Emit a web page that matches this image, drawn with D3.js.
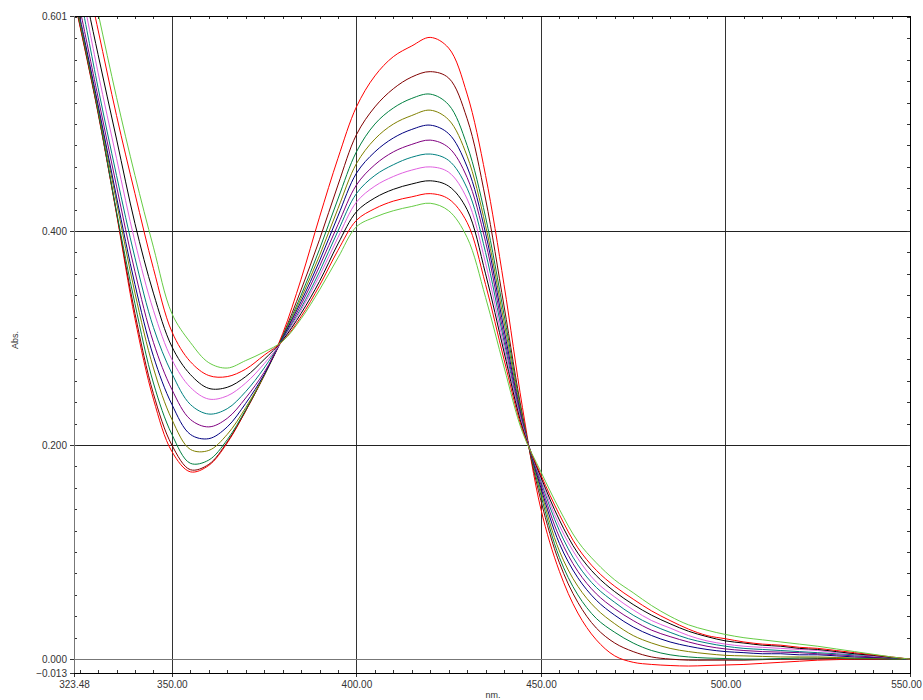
<!DOCTYPE html>
<html>
<head>
<meta charset="utf-8">
<script src="https://cdn.jsdelivr.net/npm/d3@7"></script>
<style>
  html, body { margin: 0; padding: 0; background: #fff; }
  svg { display: block; }
  text { font-family: "Liberation Sans", Arial, sans-serif; fill: #333; }
</style>
</head>
<body>
<svg id="chart" width="923" height="700"></svg>
<script>
// ---- DATA ----
const wavelengths = [323.48, 325, 330, 335, 340, 345, 350, 355, 360, 365, 370, 375, 380, 385, 390, 395, 400,
  405, 410, 415, 420, 425, 430, 435, 440, 445, 450, 455, 460, 465, 470, 475, 480, 485, 490, 495, 500,
  505, 510, 515, 520, 525, 530, 535, 540, 545, 550];

const absRed1 = [0.617, 0.593, 0.510, 0.416, 0.318, 0.243, 0.194, 0.175, 0.181, 0.202, 0.232, 0.265, 0.304,
  0.355, 0.413, 0.468, 0.516, 0.545, 0.563, 0.573, 0.581, 0.571, 0.528, 0.452, 0.350, 0.235, 0.140,
  0.082, 0.043, 0.018, 0.003, -0.003, -0.005, -0.006, -0.0065, -0.006, -0.0055, -0.005, -0.004, -0.003,
  -0.002, -0.001, -0.0005, 0, 0, 0, 0];
const absMaroon = [0.618, 0.594, 0.511, 0.417, 0.323, 0.248, 0.200, 0.177, 0.182, 0.203, 0.232, 0.265, 0.302,
  0.345, 0.392, 0.443, 0.490, 0.516, 0.533, 0.544, 0.549, 0.543, 0.505, 0.430, 0.330, 0.228, 0.148,
  0.090, 0.053, 0.029, 0.015, 0.007, 0.002, 0, -0.001, -0.001, -0.001, -0.001, -0.0005, 0,
  0, 0.0005, 0.0005, 0, 0, 0, 0];
const absGreen = [0.620, 0.596, 0.512, 0.418, 0.332, 0.258, 0.210, 0.183, 0.186, 0.205, 0.233, 0.265, 0.301,
  0.340, 0.383, 0.430, 0.474, 0.500, 0.515, 0.524, 0.528, 0.518, 0.480, 0.413, 0.322, 0.226, 0.153,
  0.095, 0.060, 0.038, 0.025, 0.015, 0.008, 0.004, 0.002, 0.001, 0.0005, 0, 0, 0.0005,
  0.001, 0.001, 0.001, 0.0005, 0.0005, 0, 0];
const absOlive = [0.622, 0.598, 0.515, 0.427, 0.342, 0.272, 0.224, 0.196, 0.195, 0.210, 0.235, 0.265, 0.300,
  0.337, 0.377, 0.421, 0.463, 0.486, 0.500, 0.508, 0.513, 0.504, 0.470, 0.405, 0.315, 0.224, 0.157,
  0.101, 0.068, 0.047, 0.033, 0.022, 0.015, 0.010, 0.007, 0.005, 0.0035, 0.003, 0.0025, 0.002,
  0.002, 0.002, 0.0015, 0.001, 0.001, 0.0005, 0];
const absNavy = [0.625, 0.601, 0.518, 0.432, 0.350, 0.283, 0.238, 0.210, 0.206, 0.217, 0.239, 0.266, 0.300,
  0.334, 0.372, 0.414, 0.454, 0.474, 0.487, 0.495, 0.499, 0.491, 0.460, 0.398, 0.308, 0.222, 0.160,
  0.108, 0.076, 0.055, 0.041, 0.030, 0.022, 0.016, 0.012, 0.009, 0.007, 0.006, 0.005, 0.005,
  0.004, 0.004, 0.003, 0.002, 0.0015, 0.001, 0];
const absPurple = [0.633, 0.609, 0.525, 0.442, 0.362, 0.296, 0.252, 0.224, 0.217, 0.225, 0.244, 0.268, 0.299,
  0.331, 0.367, 0.406, 0.443, 0.462, 0.474, 0.481, 0.485, 0.478, 0.450, 0.390, 0.302, 0.221, 0.163,
  0.114, 0.082, 0.061, 0.047, 0.036, 0.027, 0.021, 0.016, 0.012, 0.0095, 0.008, 0.007, 0.0065,
  0.006, 0.005, 0.004, 0.003, 0.002, 0.001, 0];
const absTeal = [0.645, 0.622, 0.534, 0.452, 0.375, 0.310, 0.267, 0.238, 0.229, 0.234, 0.250, 0.272, 0.299,
  0.328, 0.362, 0.400, 0.435, 0.452, 0.462, 0.469, 0.472, 0.466, 0.440, 0.380, 0.297, 0.219, 0.166,
  0.120, 0.088, 0.067, 0.053, 0.041, 0.032, 0.025, 0.019, 0.015, 0.012, 0.010, 0.009, 0.008,
  0.007, 0.006, 0.005, 0.004, 0.003, 0.001, 0];
const absPink = [0.660, 0.635, 0.548, 0.468, 0.390, 0.326, 0.280, 0.254, 0.243, 0.246, 0.258, 0.276, 0.298,
  0.326, 0.358, 0.394, 0.427, 0.442, 0.451, 0.457, 0.460, 0.455, 0.430, 0.370, 0.292, 0.218, 0.168,
  0.125, 0.094, 0.072, 0.058, 0.046, 0.036, 0.029, 0.022, 0.017, 0.014, 0.012, 0.011, 0.010,
  0.009, 0.008, 0.006, 0.005, 0.003, 0.0015, 0];
const absBlack = [0.675, 0.647, 0.565, 0.486, 0.407, 0.342, 0.292, 0.266, 0.253, 0.254, 0.264, 0.280, 0.298,
  0.323, 0.353, 0.388, 0.418, 0.431, 0.439, 0.444, 0.447, 0.442, 0.420, 0.360, 0.287, 0.216, 0.170,
  0.130, 0.099, 0.078, 0.063, 0.051, 0.041, 0.033, 0.026, 0.021, 0.017, 0.015, 0.013, 0.012,
  0.010, 0.009, 0.007, 0.005, 0.0035, 0.0015, 0];
const absRed2 = [0.690, 0.668, 0.588, 0.508, 0.435, 0.365, 0.306, 0.278, 0.265, 0.264, 0.271, 0.284, 0.297,
  0.320, 0.349, 0.382, 0.410, 0.421, 0.428, 0.432, 0.435, 0.430, 0.408, 0.350, 0.280, 0.214, 0.172,
  0.135, 0.104, 0.083, 0.068, 0.056, 0.045, 0.036, 0.028, 0.022, 0.019, 0.016, 0.014, 0.013,
  0.011, 0.010, 0.008, 0.006, 0.004, 0.002, 0];
const absLightGreen = [0.710, 0.685, 0.604, 0.525, 0.452, 0.385, 0.323, 0.296, 0.277, 0.272, 0.279, 0.287, 0.297,
  0.318, 0.345, 0.375, 0.404, 0.413, 0.419, 0.423, 0.426, 0.419, 0.394, 0.338, 0.273, 0.212, 0.175,
  0.140, 0.110, 0.090, 0.074, 0.062, 0.050, 0.040, 0.032, 0.027, 0.023, 0.020, 0.018, 0.016,
  0.014, 0.012, 0.0095, 0.007, 0.0045, 0.002, 0];

const seriesColors = ["#ff0000", "#800000", "#008040", "#808000", "#000080", "#800080",
  "#008080", "#e060e0", "#000000", "#ff0000", "#66cc44"];

const xTickLabels = [323.48, 350, 400, 450, 500, 550];
const yTickLabels = [-0.013, 0.000, 0.200, 0.400, 0.601];
const xGrid = [350, 400, 450, 500];
const yGrid = [0.2, 0.4];
const xLabel = "nm.";
const yLabel = "Abs.";

// ---- CHART ----
const seriesValues = [absRed1, absMaroon, absGreen, absOlive, absNavy, absPurple,
  absTeal, absPink, absBlack, absRed2, absLightGreen];

const svg = d3.select("#chart");
const L = 74, R = 910, T = 16, B = 673;

const x = d3.scaleLinear().domain([323.48, 550]).range([L, R]);
const y = d3.scaleLinear().domain([-0.013, 0.601]).range([B, T]);

svg.append("rect").attr("width", 923).attr("height", 700).attr("fill", "#fff");

svg.append("defs").append("clipPath").attr("id", "plotclip")
  .append("rect").attr("x", L).attr("y", T).attr("width", R - L).attr("height", B - T);

// grid
const grid = svg.append("g").attr("shape-rendering", "crispEdges");
grid.selectAll("line.vx").data(xGrid).join("line")
  .attr("x1", d => Math.round(x(d)) + 0.5).attr("x2", d => Math.round(x(d)) + 0.5)
  .attr("y1", T).attr("y2", B + 4)
  .attr("stroke", "#333").attr("stroke-width", 1);
grid.selectAll("line.hy").data(yGrid).join("line")
  .attr("x1", L).attr("x2", R)
  .attr("y1", d => Math.round(y(d)) + 0.5).attr("y2", d => Math.round(y(d)) + 0.5)
  .attr("stroke", "#222").attr("stroke-width", 1);
grid.append("line")
  .attr("x1", L).attr("x2", R)
  .attr("y1", Math.round(y(0)) + 0.5).attr("y2", Math.round(y(0)) + 0.5)
  .attr("stroke", "#777").attr("stroke-width", 1);

// curves
const line = d3.line()
  .x((d, i) => x(wavelengths[i]))
  .y(d => y(d))
  .curve(d3.curveCatmullRom.alpha(0.5));

svg.append("g").attr("clip-path", "url(#plotclip)")
  .selectAll("path").data(seriesValues).join("path")
  .attr("d", d => line(d))
  .attr("fill", "none")
  .attr("stroke", (d, i) => seriesColors[i])
  .attr("stroke-width", 1);

// minor ticks (inward)
const xMinor = d3.range(325, 550, 5);
const yMinor = d3.range(1, 31).map(k => k * 0.02);
function styleAxis(g) {
  g.select(".domain").remove();
  g.selectAll("line").attr("stroke", "#333").attr("shape-rendering", "crispEdges");
  g.selectAll("text").attr("font-size", 10).attr("fill", "#333")
    .attr("font-family", "Liberation Sans, Arial, sans-serif");
}
svg.append("g").attr("transform", `translate(0,${B})`)
  .call(d3.axisBottom(x).tickValues(xMinor).tickSize(-3).tickFormat(""))
  .call(styleAxis);
svg.append("g").attr("transform", `translate(0,${T})`)
  .call(d3.axisTop(x).tickValues(xMinor).tickSize(-3).tickFormat(""))
  .call(styleAxis);
svg.append("g").attr("transform", `translate(${L},0)`)
  .call(d3.axisLeft(y).tickValues(yMinor).tickSize(-3).tickFormat(""))
  .call(styleAxis);
svg.append("g").attr("transform", `translate(${R},0)`)
  .call(d3.axisRight(y).tickValues(yMinor).tickSize(-3).tickFormat(""))
  .call(styleAxis);

// major ticks + labels
const xAxisG = svg.append("g").attr("transform", `translate(0,${B})`)
  .call(d3.axisBottom(x).tickValues(xTickLabels).tickSize(4).tickPadding(4).tickFormat(d3.format(".2f")))
  .call(styleAxis);
// keep the last label inside the window
xAxisG.selectAll(".tick text").filter(d => d === 550).attr("dx", -4);
svg.append("g").attr("transform", `translate(${L},0)`)
  .call(d3.axisLeft(y).tickValues(yTickLabels).tickSize(4).tickPadding(3).tickFormat(d3.format(".3f")))
  .call(styleAxis);

// frame
const frame = svg.append("g").attr("shape-rendering", "crispEdges").attr("fill", "none");
frame.append("line").attr("x1", L).attr("x2", R + 0.5).attr("y1", T + 0.5).attr("y2", T + 0.5).attr("stroke", "#000").attr("stroke-width", 1.5);
frame.append("line").attr("x1", R + 0.5).attr("x2", R + 0.5).attr("y1", T).attr("y2", B).attr("stroke", "#000");
frame.append("line").attr("x1", L).attr("x2", R + 0.5).attr("y1", B + 0.5).attr("y2", B + 0.5).attr("stroke", "#000");
frame.append("line").attr("x1", L + 0.5).attr("x2", L + 0.5).attr("y1", T).attr("y2", B).attr("stroke", "#777");

// axis titles
svg.append("text").attr("x", 493).attr("y", 698).attr("text-anchor", "middle")
  .attr("font-size", 9).text(xLabel);
svg.append("text").attr("transform", "translate(18,340) rotate(-90)").attr("text-anchor", "middle")
  .attr("font-size", 9).text(yLabel);
</script>
</body>
</html>
